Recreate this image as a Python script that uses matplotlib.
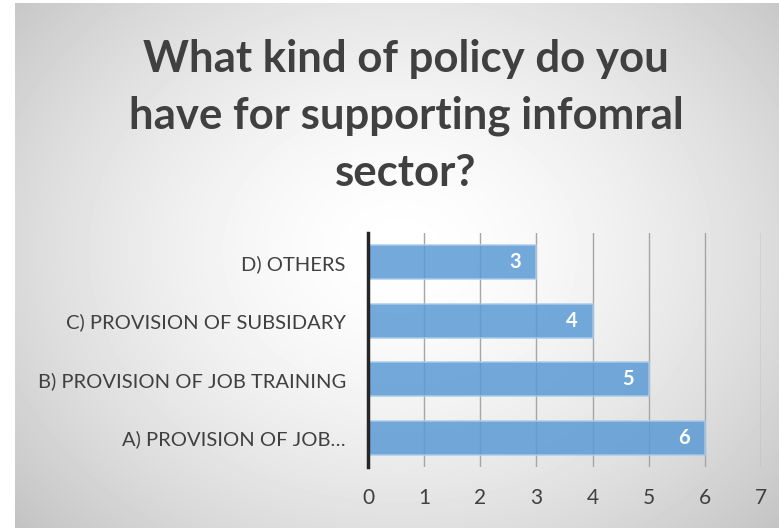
import matplotlib.pyplot as plt
import numpy as np

# data
categories = ['A) PROVISION OF JOB…', 'B) PROVISION OF JOB TRAINING',
              'C) PROVISION OF SUBSIDARY', 'D) OTHERS']
values = [6, 5, 4, 3]
xticks = [0, 1, 2, 3, 4, 5, 6, 7]
title = 'What kind of policy do you\nhave for supporting infomral\nsector?'

plt.rcParams['font.family'] = ['Lato', 'DejaVu Sans']

W, H = 779, 528
fig = plt.figure(figsize=(W / 100, H / 100), dpi=100)

# radial gradient background
bg = fig.add_axes([0, 0, 1, 1])
yy, xx = np.mgrid[0:H, 0:W]
r = np.sqrt(((xx - 400) / 520.0) ** 2 + ((yy - 250) / 420.0) ** 2)
shade = np.clip(1.0 - 0.24 * r ** 1.6, 0.72, 1.0)
shade[:, :15] = 1.0
shade[:3, :] = 1.0
bg.imshow(shade, cmap='gray', vmin=0, vmax=1, aspect='auto',
          extent=[0, W, H, 0], interpolation='bilinear')
bg.set_axis_off()

ax = fig.add_axes([368 / W, 1 - 467 / H, 393 / W, 234 / H])
ax.patch.set_alpha(0)
y = np.arange(len(categories))
bars = ax.barh(y, values, height=0.58, color='#5b9bd5', alpha=0.85,
               edgecolor='#a9cbe9', linewidth=1.2, zorder=3)
for b, v in zip(bars, values):
    ax.text(v - 0.27, b.get_y() + b.get_height() / 2, str(v), ha='right',
            va='center', color='white', fontsize=14.5, fontweight='bold',
            zorder=4)

ax.set_xlim(0, 7)
ax.set_ylim(-0.5, 3.5)
ax.set_xticks(xticks)
ax.set_xticklabels([str(t) for t in xticks], fontsize=15, color='#404040')
ax.set_yticks(y)
ax.set_yticklabels(categories, fontsize=14.5, color='#404040')
ax.tick_params(axis='both', length=0)
ax.tick_params(axis='x', pad=15)
ax.tick_params(axis='y', pad=16)
ax.grid(axis='x', color='#a6a6a6', linewidth=1, zorder=1)
for s in ['top', 'right', 'bottom']:
    ax.spines[s].set_visible(False)
ax.spines['left'].set_color('#262626')
ax.spines['left'].set_linewidth(2.5)
ax.spines['left'].set_zorder(5)

fig.text(406 / W, 1 - 116 / H, title, ha='center', va='center',
         fontsize=31.5, fontweight='bold', color='#404040', linespacing=1.52)

fig.savefig('out.png', dpi=100)
